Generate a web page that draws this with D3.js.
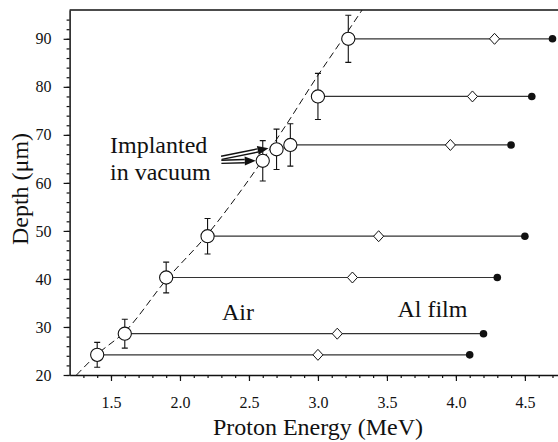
<!DOCTYPE html>
<html>
<head>
<meta charset="utf-8">
<script src="https://cdn.jsdelivr.net/npm/d3@7"></script>
<style>
  body { margin: 0; background: #fff; }
</style>
</head>
<body>
<div id="chart"></div>
<script>
// measured implantation depth (open circles)
const energy = [1.4, 1.6, 1.9, 2.2, 2.6, 2.7, 2.8, 3.0, 3.22];
const depth = [24.2, 28.6, 40.3, 48.9, 64.6, 67.0, 67.9, 78.0, 90.0];
const depthErr = [2.6, 3.0, 3.2, 3.7, 4.2, 4.2, 4.4, 4.8, 4.9];
// in air: index of circle, energy at diamond (after air), energy at dot (after Al film)
const rowIndex = [0, 1, 2, 3, 6, 7, 8];
const diamondEnergy = [3.0, 3.14, 3.25, 3.44, 3.96, 4.12, 4.28];
const dotEnergy = [4.1, 4.2, 4.3, 4.5, 4.4, 4.55, 4.7];
// dashed range curve
const curveEnergy = [1.25, 1.4, 1.6, 1.9, 2.2, 2.45, 2.77, 3.0, 3.18, 3.32];
const curveDepth = [20, 24.3, 29.0, 39.8, 49.3, 58.7, 72.1, 82.4, 90, 96];
// ticks
const xMajor = [1.5, 2.0, 2.5, 3.0, 3.5, 4.0, 4.5];
const xMinor = d3.range(13, 48).map(d => d / 10);
const yMajor = [20, 30, 40, 50, 60, 70, 80, 90];
const yMinor = d3.range(20, 96, 2);

let width = 558, height = 442;
let margin = { top: 10, right: 0, bottom: 67, left: 69.6 };
let ink = "#111";
let serif = "'Liberation Serif', 'Times New Roman', serif";

let svg = d3.select("#chart").append("svg")
    .attr("width", width)
    .attr("height", height);

let x = d3.scaleLinear()
    .domain([1.2, 4.74])
    .range([margin.left, width - margin.right]);
let y = d3.scaleLinear()
    .domain([20, 96])
    .range([height - margin.bottom, margin.top]);

// minor ticks
svg.append("g")
    .attr("transform", "translate(0," + y(20) + ")")
    .call(d3.axisBottom(x).tickValues(xMinor).tickSize(3).tickFormat("").tickSizeOuter(0))
    .call(g => g.select(".domain").remove());
svg.append("g")
    .attr("transform", "translate(" + x(1.2) + ",0)")
    .call(d3.axisLeft(y).tickValues(yMinor).tickSize(3).tickFormat("").tickSizeOuter(0))
    .call(g => g.select(".domain").remove());

// major ticks + labels
svg.append("g")
    .attr("transform", "translate(0," + y(20) + ")")
    .call(d3.axisBottom(x).tickValues(xMajor).tickSize(6).tickPadding(15.5)
        .tickFormat(d3.format(".1f")).tickSizeOuter(0));
svg.append("g")
    .attr("transform", "translate(" + x(1.2) + ",0)")
    .call(d3.axisLeft(y).tickValues(yMajor).tickSize(6).tickPadding(12).tickSizeOuter(0));

svg.selectAll(".tick line").attr("stroke", ink).attr("stroke-width", 1.2);
svg.selectAll(".tick text")
    .attr("fill", ink)
    .attr("font-family", null)
    .style("font-size", "16px")
    .style("font-family", serif);
svg.selectAll(".domain").attr("stroke", ink).attr("stroke-width", 1.5);

// top frame line
svg.append("line")
    .attr("x1", x(1.2)).attr("x2", width)
    .attr("y1", y(96)).attr("y2", y(96))
    .attr("stroke", ink).attr("stroke-width", 1.5);

// clip to plot area
svg.append("clipPath").attr("id", "plotclip")
    .append("rect")
    .attr("x", x(1.2)).attr("y", y(96))
    .attr("width", width - x(1.2)).attr("height", y(20) - y(96));
let plot = svg.append("g").attr("clip-path", "url(#plotclip)");

// dashed curve
let curvePts = curveEnergy.map((e, i) => [e, curveDepth[i]]);
plot.append("path")
    .datum(curvePts)
    .attr("d", d3.line().x(d => x(d[0])).y(d => y(d[1])).curve(d3.curveMonotoneX))
    .attr("fill", "none")
    .attr("stroke", ink)
    .attr("stroke-width", 1)
    .attr("stroke-dasharray", "7,4");

// horizontal lines
plot.selectAll(".hline")
    .data(rowIndex)
    .enter().append("line")
    .attr("class", "hline")
    .attr("x1", d => x(energy[d]))
    .attr("x2", (d, i) => x(dotEnergy[i]))
    .attr("y1", d => y(depth[d]))
    .attr("y2", d => y(depth[d]))
    .attr("stroke", "#333")
    .attr("stroke-width", 1.2);

// diamonds
plot.selectAll(".diamond")
    .data(rowIndex)
    .enter().append("path")
    .attr("class", "diamond")
    .attr("d", "M0,-5.5L5,0L0,5.5L-5,0Z")
    .attr("transform", (d, i) => "translate(" + x(diamondEnergy[i]) + "," + y(depth[d]) + ")")
    .attr("fill", "#fff")
    .attr("stroke", ink)
    .attr("stroke-width", 1);

// filled dots
plot.selectAll(".dot")
    .data(rowIndex)
    .enter().append("circle")
    .attr("class", "dot")
    .attr("cx", (d, i) => x(dotEnergy[i]))
    .attr("cy", d => y(depth[d]))
    .attr("r", 3.8)
    .attr("fill", ink);

// error bars
let err = plot.selectAll(".err")
    .data(energy.map((e, i) => i))
    .enter().append("g")
    .attr("class", "err")
    .attr("stroke", ink)
    .attr("stroke-width", 1.1);
err.append("line")
    .attr("x1", i => x(energy[i])).attr("x2", i => x(energy[i]))
    .attr("y1", i => y(depth[i] - depthErr[i])).attr("y2", i => y(depth[i] + depthErr[i]));
err.append("line")
    .attr("x1", i => x(energy[i]) - 3).attr("x2", i => x(energy[i]) + 3)
    .attr("y1", i => y(depth[i] + depthErr[i])).attr("y2", i => y(depth[i] + depthErr[i]));
err.append("line")
    .attr("x1", i => x(energy[i]) - 3).attr("x2", i => x(energy[i]) + 3)
    .attr("y1", i => y(depth[i] - depthErr[i])).attr("y2", i => y(depth[i] - depthErr[i]));

// open circles
plot.selectAll(".pt")
    .data(energy)
    .enter().append("circle")
    .attr("class", "pt")
    .attr("cx", d => x(d))
    .attr("cy", (d, i) => y(depth[i]))
    .attr("r", 6.6)
    .attr("fill", "#fff")
    .attr("stroke", ink)
    .attr("stroke-width", 1.1);

// labels
function label(txt, px, py, anchor) {
    svg.append("text")
        .attr("x", px).attr("y", py)
        .attr("text-anchor", anchor || "start")
        .attr("fill", ink)
        .style("font-family", serif)
        .style("font-size", "24px")
        .text(txt);
}
label("Implanted", 110, 153);
label("in vacuum", 110, 180);
label("Air", x(2.42), 320, "middle");
label("Al film", x(3.83), 317, "middle");

// double-line arrows pointing at the vacuum points
function arrow(x1, y1, x2, y2) {
    let ang = Math.atan2(y2 - y1, x2 - x1);
    let head = 11, hw = 4.5;
    let bx = x2 - head * Math.cos(ang), by = y2 - head * Math.sin(ang);
    let nx = -Math.sin(ang), ny = Math.cos(ang);
    [-1.6, 1.6].forEach(o => {
        svg.append("line")
            .attr("x1", x1 + nx * o).attr("y1", y1 + ny * o)
            .attr("x2", bx + nx * o).attr("y2", by + ny * o)
            .attr("stroke", ink).attr("stroke-width", 1.4);
    });
    svg.append("path")
        .attr("d", "M" + x2 + "," + y2 +
            "L" + (bx + nx * hw) + "," + (by + ny * hw) +
            "L" + (bx - nx * hw) + "," + (by - ny * hw) + "Z")
        .attr("fill", ink);
}
arrow(x(2.3), y(depth[4]) - 3, x(energy[5]) - 8, y(depth[5]) - 1);
arrow(x(2.3), y(depth[4]) + 1, x(energy[4]) - 7, y(depth[4]));

// axis titles
svg.append("text")
    .attr("x", 318).attr("y", 435)
    .attr("text-anchor", "middle")
    .attr("fill", ink)
    .style("font-family", serif)
    .style("font-size", "24px")
    .text("Proton Energy (MeV)");
svg.append("text")
    .attr("transform", "translate(28," + 189 + ") rotate(-90)")
    .attr("text-anchor", "middle")
    .attr("fill", ink)
    .style("font-family", serif)
    .style("font-size", "24px")
    .text("Depth (\u03bcm)");
</script>
</body>
</html>
